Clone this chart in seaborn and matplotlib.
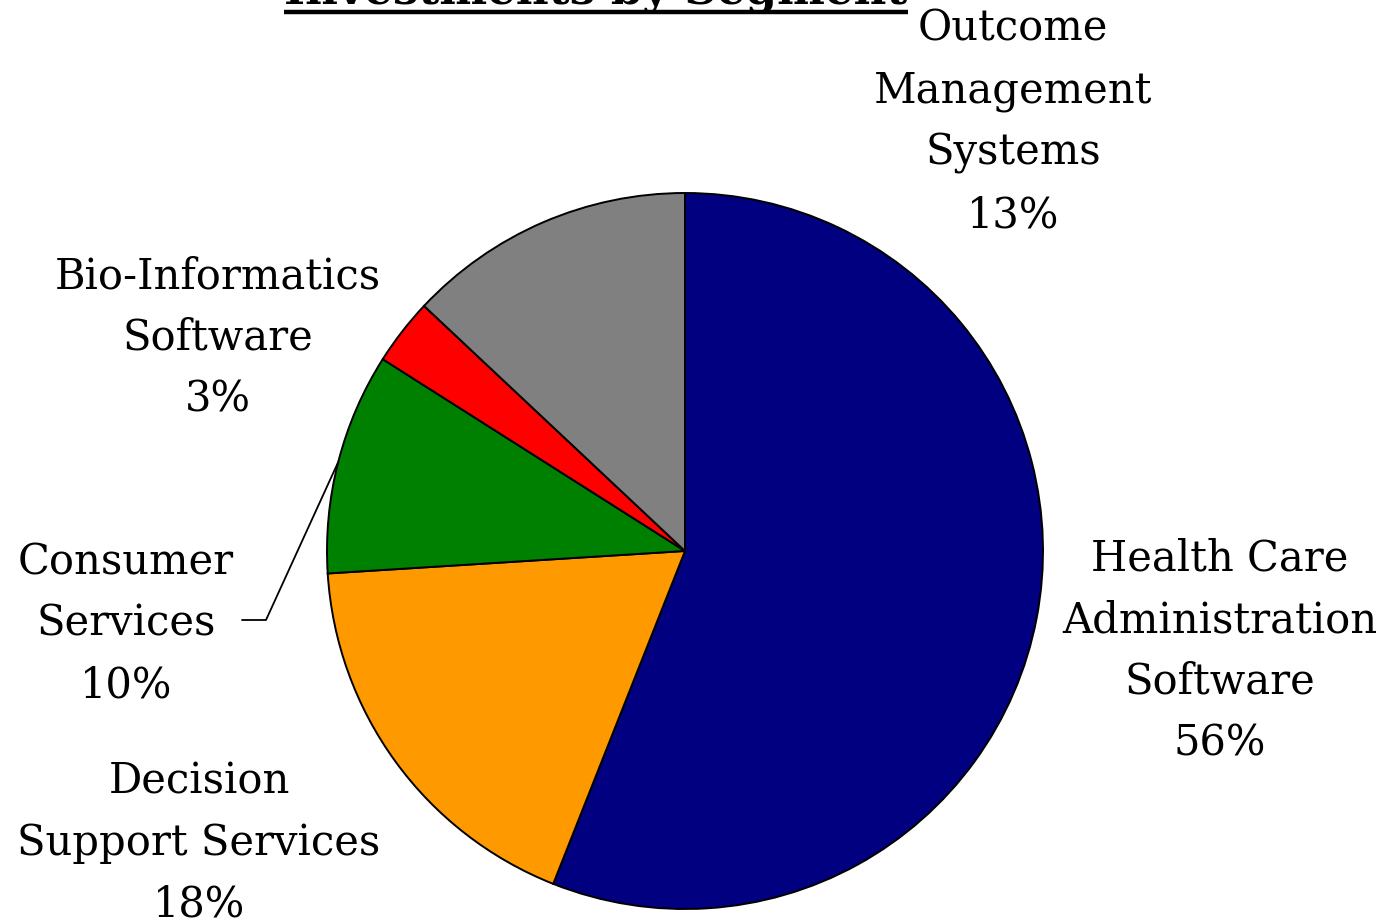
import matplotlib
matplotlib.use("Agg")
import matplotlib.pyplot as plt
import seaborn as sns
import numpy as np

# Portfolio share by segment (percent), clockwise from 12 o'clock
segments = [
    "Health Care\nAdministration\nSoftware",
    "Decision\nSupport Services",
    "Consumer\nServices",
    "Bio-Informatics\nSoftware",
    "Outcome\nManagement\nSystems",
]
shares = [56, 18, 10, 3, 13]
colors = ["#000080", "#FF9900", "#008000", "#FF0000", "#808080"]
title = "Investments by Segment"

sns.set_theme(style="white")
plt.rcParams["font.family"] = ["DejaVu Serif"]

W, H = 1391, 924
fig = plt.figure(figsize=(W / 100, H / 100), dpi=100)
ax = fig.add_axes([0, 0, 1, 1])

# pixel frame -> data frame with pie centre at (685, 551) and radius 358 px
cx, cy, r = 685, 551, 358
def px(x, y):
    return (x - cx) / r, (cy - y) / r

wedges, _ = ax.pie(
    shares, colors=colors, startangle=90, counterclock=False,
    radius=1.0, wedgeprops=dict(edgecolor="black", linewidth=1.4),
)
ax.set_xlim((0 - cx) / r, (W - cx) / r)
ax.set_ylim((cy - H) / r, cy / r)
ax.set_aspect("equal")
ax.axis("off")

fs = 30
label_pos = [
    (1220, 651),   # Health Care Administration Software
    (199, 843),    # Decision Support Services
    (126, 624),    # Consumer Services
    (218, 338),    # Bio-Informatics Software
    (1013, 122),   # Outcome Management Systems
]
for name, val, (lx, ly) in zip(segments, shares, label_pos):
    tx, ty = px(lx, ly)
    ax.text(tx, ty, f"{name}\n{val:.0f}%", ha="center", va="center",
            fontsize=fs, linespacing=1.6, color="black")

# leader line for the Consumer Services label
w = wedges[2]
mid = np.deg2rad((w.theta1 + w.theta2) / 2)
ex, ey = np.cos(mid), np.sin(mid)
x0, y0 = px(242, 620)
x1, y1 = px(266, 620)
ax.plot([x0, x1, ex], [y0, y1, ey], color="black", linewidth=1.3)

# title, mostly above the top edge, with underline
tx, ty = px(596, 4)
t = ax.text(tx, ty, title, ha="center", va="baseline", fontsize=32.5,
            fontweight="bold", color="black")
fig.canvas.draw()
bb = t.get_window_extent(renderer=fig.canvas.get_renderer())
ux0, _ = px(bb.x0, 0)
ux1, _ = px(bb.x1, 0)
_, uy = px(0, 12)
ax.plot([ux0, ux1], [uy, uy], color="black", linewidth=3.2, solid_capstyle="butt")

fig.savefig("out.png", dpi=100)
